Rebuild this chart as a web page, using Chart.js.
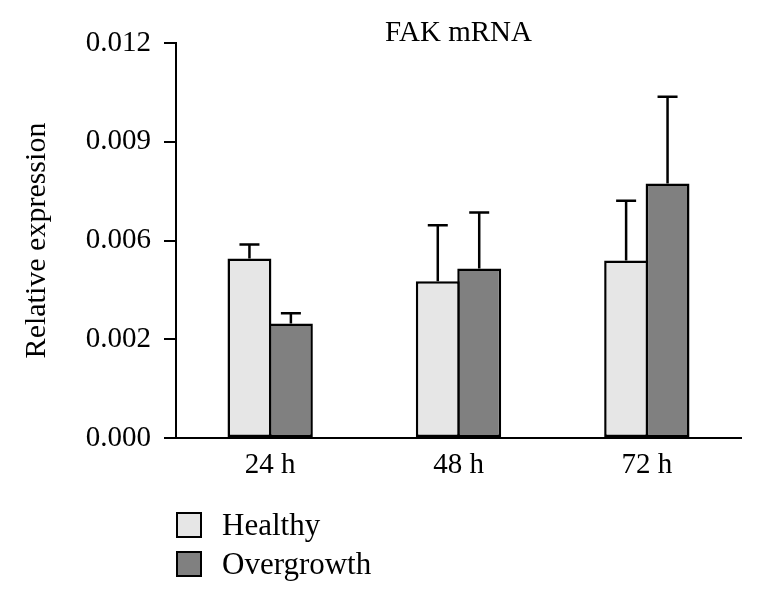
<!DOCTYPE html>
<html>
<head>
<meta charset="utf-8">
<script src="https://cdn.jsdelivr.net/npm/chart.js@4"></script>
<style>
    body { margin: 0; background: #fff; }
    #wrap { position: relative; width: 762px; height: 605px; }
    #legend { position: absolute; left: 176px; top: 505px; font-family: 'Liberation Serif', serif; font-size: 31px; color: #000; }
    .item { display: flex; align-items: center; height: 39px; }
    .box { width: 22px; height: 22px; border: 2px solid #000; margin-right: 20px; }
</style>
</head>
<body>
<div id="wrap">
    <canvas id="barChart" width="762" height="605"></canvas>
    <div id="legend"></div>
</div>
<script>
// Dữ liệu
const timePoints = ['24 h', '48 h', '72 h'];
const healthy = [0.00545, 0.00476, 0.00539];
const healthyErr = [0.00043, 0.00170, 0.00182];
const overgrowth = [0.00348, 0.00515, 0.00773];
const overgrowthErr = [0.00031, 0.00170, 0.00264];
const yTickLabels = ['0.000', '0.002', '0.006', '0.009', '0.012']; // nhãn như trong hình gốc

const seriesNames = ['Healthy', 'Overgrowth'];
const seriesColors = ['#e6e6e6', '#808080'];
const serif = "'Liberation Serif', 'Times New Roman', serif";

// Vẽ thanh sai số (chỉ phía trên)
const errorBars = {
    id: 'errorBars',
    afterDatasetsDraw(chart) {
        const ctx = chart.ctx;
        const yScale = chart.scales.y;
        chart.data.datasets.forEach((ds, i) => {
            const meta = chart.getDatasetMeta(i);
            meta.data.forEach((bar, j) => {
                const top = yScale.getPixelForValue(ds.data[j] + ds.errors[j]);
                ctx.save();
                ctx.strokeStyle = '#000';
                ctx.lineWidth = 2.5;
                ctx.beginPath();
                ctx.moveTo(bar.x, bar.y);
                ctx.lineTo(bar.x, top);
                ctx.moveTo(bar.x - 10, top);
                ctx.lineTo(bar.x + 10, top);
                ctx.stroke();
                ctx.restore();
            });
        });
    }
};

const ctx = document.getElementById('barChart').getContext('2d');
const barChart = new Chart(ctx, {
    type: 'bar',
    data: {
        labels: timePoints,
        datasets: [
            { label: seriesNames[0], data: healthy, errors: healthyErr, backgroundColor: seriesColors[0] },
            { label: seriesNames[1], data: overgrowth, errors: overgrowthErr, backgroundColor: seriesColors[1] }
        ].map(ds => Object.assign(ds, {
            borderColor: '#000',
            borderWidth: 2.5,
            borderSkipped: false,
            categoryPercentage: 0.44,
            barPercentage: 1.06 // hai thanh chồng nhau một đường viền
        }))
    },
    options: {
        responsive: false,
        animation: false,
        layout: {
            padding: { left: 0, right: 21, top: 0, bottom: 117 }
        },
        plugins: {
            legend: { display: false },
            tooltip: { enabled: false },
            title: {
                display: true,
                text: 'FAK mRNA',
                fullSize: false,
                color: '#000',
                font: { family: serif, size: 29, weight: 'normal', lineHeight: 1 },
                padding: { top: 19, bottom: -5 }
            }
        },
        scales: {
            x: {
                grid: { drawOnChartArea: false, drawTicks: false },
                border: { display: true, color: '#000', width: 2 },
                ticks: {
                    color: '#000',
                    padding: 10,
                    font: { family: serif, size: 29 }
                },
                afterFit: scale => { scale.height = 50; }
            },
            y: {
                min: 0,
                max: 0.012,
                ticks: {
                    stepSize: 0.003,
                    color: '#000',
                    padding: 13,
                    font: { family: serif, size: 29 },
                    callback: (value, index) => yTickLabels[index]
                },
                grid: { drawOnChartArea: false, drawTicks: true, tickLength: 12, color: '#000', lineWidth: 2 },
                border: { display: true, color: '#000', width: 2 },
                title: {
                    display: true,
                    text: 'Relative expression',
                    color: '#000',
                    font: { family: serif, size: 30 },
                    padding: { top: 19, bottom: 0 }
                },
                afterFit: scale => { scale.width = 176; }
            }
        }
    },
    plugins: [errorBars]
});

// Chú giải dạng HTML
document.getElementById('legend').innerHTML = seriesNames.map((name, i) =>
    `<div class="item"><span class="box" style="background:${seriesColors[i]}"></span>${name}</div>`
).join('');
</script>
</body>
</html>
